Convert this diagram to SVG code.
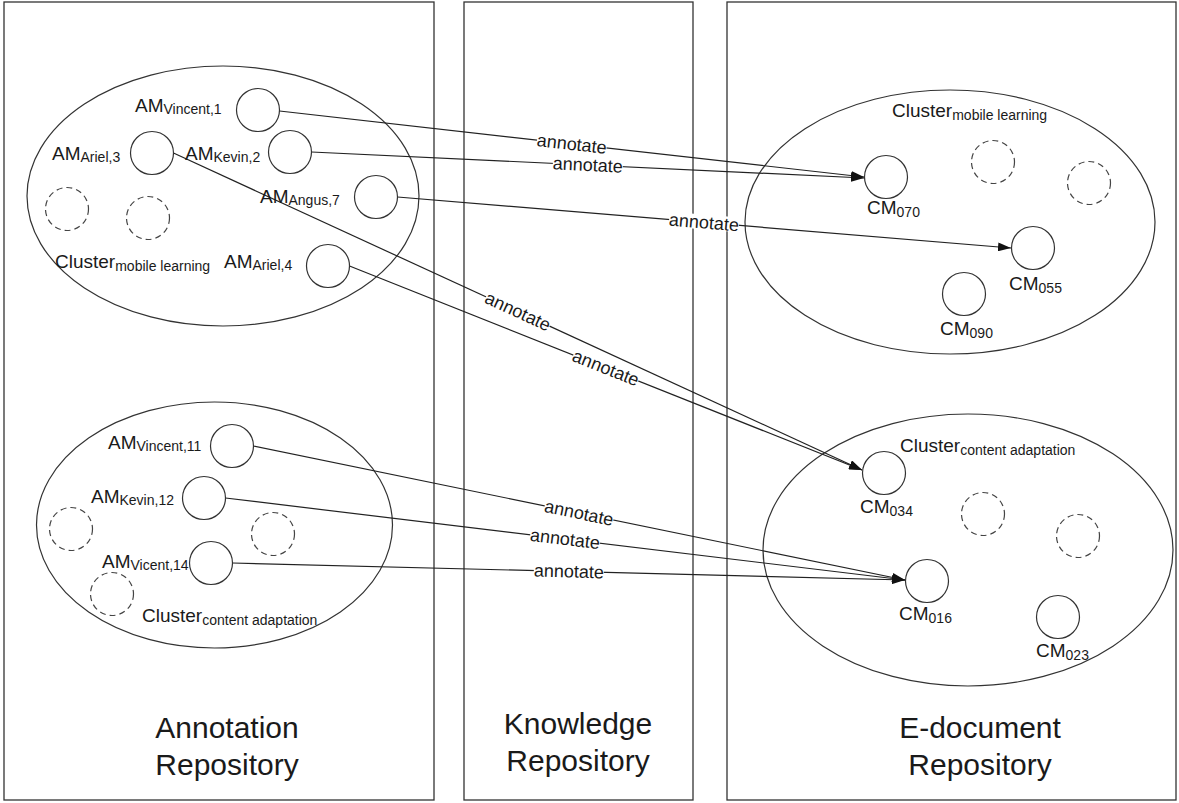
<svg xmlns="http://www.w3.org/2000/svg" width="1179" height="803" viewBox="0 0 1179 803">
  <style>
    .panel { fill: none; stroke: #333; stroke-width: 1.3; }
    .cluster { fill: none; stroke: #333; stroke-width: 1.2; }
    .node { fill: #fff; stroke: #333; stroke-width: 1.2; }
    .ghost { fill: none; stroke: #444; stroke-width: 1.2; stroke-dasharray: 6 4; }
    .lbl { font-family: "Liberation Sans", Arial, sans-serif; font-size: 19px; fill: #1a1a1a; }
    .sub { font-size: 14px; }
    .big { font-family: "Liberation Sans", Arial, sans-serif; font-size: 30px; fill: #1a1a1a; text-anchor: middle; }
    .edge { fill: none; stroke: #222; stroke-width: 1.2; }
    .elbl { font-family: "Liberation Sans", Arial, sans-serif; font-size: 18px; fill: #1a1a1a; text-anchor: middle; }
    .ebg { fill: #fff; }
  </style>
  <defs>
    <marker id="arrow" markerWidth="13" markerHeight="9" refX="13" refY="4.5" orient="auto" markerUnits="userSpaceOnUse">
      <path d="M0,0 L13,4.5 L0,9 Z" fill="#111"/>
    </marker>
  </defs>

  <rect width="1179" height="803" fill="#fff"/>

  <!-- repository panels -->
  <g id="panels">
    <rect class="panel" x="4" y="2" width="430" height="798"/>
    <rect class="panel" x="464" y="2" width="229" height="798"/>
    <rect class="panel" x="727" y="2" width="449" height="798"/>
    <text class="big" x="227" y="738">Annotation</text>
    <text class="big" x="227" y="775">Repository</text>
    <text class="big" x="578" y="734">Knowledge</text>
    <text class="big" x="578" y="771">Repository</text>
    <text class="big" x="980" y="738">E-document</text>
    <text class="big" x="980" y="775">Repository</text>
  </g>

  <!-- cluster outlines -->
  <g id="clusters">
    <ellipse class="cluster" cx="223" cy="196" rx="196" ry="130"/>
    <ellipse class="cluster" cx="214.5" cy="525" rx="178" ry="123"/>
    <ellipse class="cluster" cx="950" cy="222" rx="205" ry="132"/>
    <ellipse class="cluster" cx="968" cy="550" rx="205" ry="136"/>
    <text class="lbl" x="55" y="268">Cluster<tspan class="sub" dy="3">mobile learning</tspan></text>
    <text class="lbl" x="142" y="622">Cluster<tspan class="sub" dy="3">content adaptation</tspan></text>
    <text class="lbl" x="892" y="117">Cluster<tspan class="sub" dy="3">mobile learning</tspan></text>
    <text class="lbl" x="900" y="452">Cluster<tspan class="sub" dy="3">content adaptation</tspan></text>
  </g>

  <!-- unnamed members -->
  <g id="placeholders">
    <circle class="ghost" cx="67" cy="209" r="21.5"/>
    <circle class="ghost" cx="148" cy="218" r="21.5"/>
    <circle class="ghost" cx="71" cy="529" r="21.5"/>
    <circle class="ghost" cx="273" cy="534" r="21.5"/>
    <circle class="ghost" cx="112" cy="594" r="21.5"/>
    <circle class="ghost" cx="993" cy="162" r="21.5"/>
    <circle class="ghost" cx="1089" cy="183" r="21.5"/>
    <circle class="ghost" cx="983" cy="514" r="21.5"/>
    <circle class="ghost" cx="1078" cy="536" r="21.5"/>
  </g>

  <!-- annotate links -->
  <g id="connectors">
    <line class="edge" x1="279.5" y1="111" x2="864" y2="177" marker-end="url(#arrow)"/>
    <line class="edge" x1="311.5" y1="152" x2="864" y2="178" marker-end="url(#arrow)"/>
    <line class="edge" x1="397.5" y1="197" x2="1011" y2="248" marker-end="url(#arrow)"/>
    <line class="edge" x1="173.5" y1="153" x2="862" y2="470" marker-end="url(#arrow)"/>
    <line class="edge" x1="349.5" y1="266" x2="862" y2="470" marker-end="url(#arrow)"/>
    <line class="edge" x1="253.5" y1="446" x2="905" y2="580" marker-end="url(#arrow)"/>
    <line class="edge" x1="225.5" y1="498" x2="905" y2="580" marker-end="url(#arrow)"/>
    <line class="edge" x1="232.5" y1="563" x2="905" y2="580" marker-end="url(#arrow)"/>

    <g transform="translate(571.8,144) rotate(6.44)"><rect class="ebg" x="-35" y="-8" width="70" height="15"/><text class="elbl" y="6">annotate</text></g>
    <g transform="translate(587.8,165) rotate(2.69)"><rect class="ebg" x="-35" y="-8" width="70" height="15"/><text class="elbl" y="6">annotate</text></g>
    <g transform="translate(704,222.5) rotate(4.75)"><rect class="ebg" x="-35" y="-8" width="70" height="15"/><text class="elbl" y="6">annotate</text></g>
    <g transform="translate(517.8,311.5) rotate(24.72)"><rect class="ebg" x="-35" y="-8" width="70" height="15"/><text class="elbl" y="6">annotate</text></g>
    <g transform="translate(605.8,368) rotate(21.7)"><rect class="ebg" x="-35" y="-8" width="70" height="15"/><text class="elbl" y="6">annotate</text></g>
    <g transform="translate(579,513) rotate(11.62)"><rect class="ebg" x="-35" y="-8" width="70" height="15"/><text class="elbl" y="6">annotate</text></g>
    <g transform="translate(565,539) rotate(6.88)"><rect class="ebg" x="-35" y="-8" width="70" height="15"/><text class="elbl" y="6">annotate</text></g>
    <g transform="translate(568.8,571.5) rotate(1.45)"><rect class="ebg" x="-35" y="-8" width="70" height="15"/><text class="elbl" y="6">annotate</text></g>
  </g>

  <!-- annotation members -->
  <g id="am-vincent-1"><circle class="node" cx="258" cy="110" r="21.5"/><text class="lbl" x="135" y="112">AM<tspan class="sub" dy="2">Vincent,1</tspan></text></g>
  <g id="am-ariel-3"><circle class="node" cx="152" cy="153" r="21.5"/><text class="lbl" x="52" y="160">AM<tspan class="sub" dy="2">Ariel,3</tspan></text></g>
  <g id="am-kevin-2"><circle class="node" cx="290" cy="152" r="21.5"/><text class="lbl" x="185" y="160">AM<tspan class="sub" dy="2">Kevin,2</tspan></text></g>
  <g id="am-angus-7"><circle class="node" cx="376" cy="197" r="21.5"/><text class="lbl" x="260" y="203">AM<tspan class="sub" dy="2">Angus,7</tspan></text></g>
  <g id="am-ariel-4"><circle class="node" cx="328" cy="266" r="21.5"/><text class="lbl" x="224" y="268">AM<tspan class="sub" dy="2">Ariel,4</tspan></text></g>
  <g id="am-vincent-11"><circle class="node" cx="232" cy="446" r="21.5"/><text class="lbl" x="108" y="449">AM<tspan class="sub" dy="2">Vincent,11</tspan></text></g>
  <g id="am-kevin-12"><circle class="node" cx="204" cy="498" r="21.5"/><text class="lbl" x="91" y="503">AM<tspan class="sub" dy="2">Kevin,12</tspan></text></g>
  <g id="am-vicent-14"><circle class="node" cx="211" cy="563" r="21.5"/><text class="lbl" x="102" y="568">AM<tspan class="sub" dy="2">Vicent,14</tspan></text></g>

  <!-- document members -->
  <g id="cm-070"><circle class="node" cx="886" cy="177" r="21.5"/><text class="lbl" x="867" y="214">CM<tspan class="sub" dy="3">070</tspan></text></g>
  <g id="cm-055"><circle class="node" cx="1033" cy="248" r="21.5"/><text class="lbl" x="1009" y="290">CM<tspan class="sub" dy="3">055</tspan></text></g>
  <g id="cm-090"><circle class="node" cx="964" cy="294" r="21.5"/><text class="lbl" x="940" y="335">CM<tspan class="sub" dy="3">090</tspan></text></g>
  <g id="cm-034"><circle class="node" cx="884" cy="473" r="21.5"/><text class="lbl" x="860" y="513">CM<tspan class="sub" dy="3">034</tspan></text></g>
  <g id="cm-016"><circle class="node" cx="927" cy="581" r="21.5"/><text class="lbl" x="899" y="620">CM<tspan class="sub" dy="3">016</tspan></text></g>
  <g id="cm-023"><circle class="node" cx="1058" cy="617" r="21.5"/><text class="lbl" x="1036" y="657">CM<tspan class="sub" dy="3">023</tspan></text></g>
</svg>
